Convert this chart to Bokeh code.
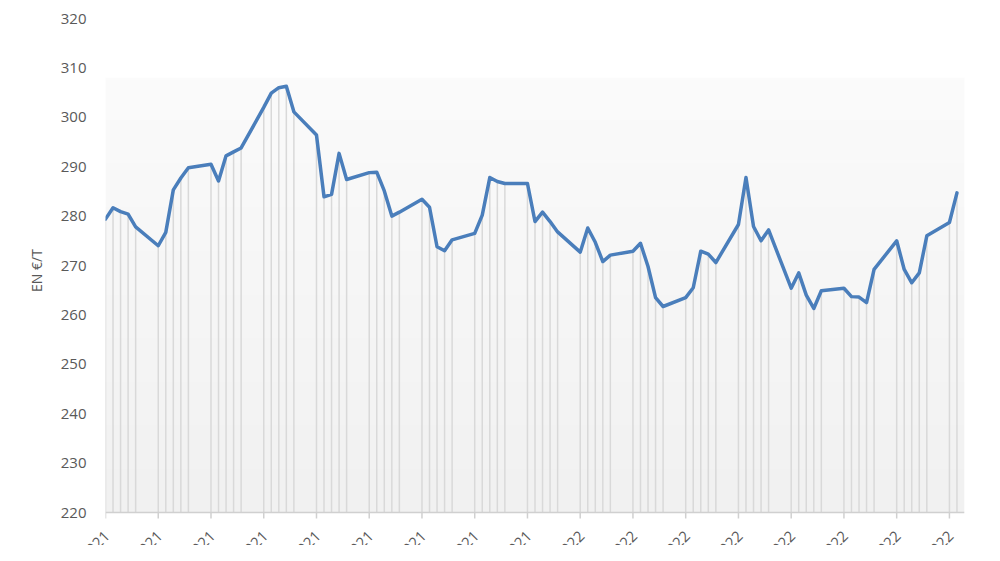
import numpy as np
import pandas as pd
from math import pi
from bokeh.plotting import figure
from bokeh.layouts import column
from bokeh.models import Range1d, FixedTicker, ColumnDataSource
from bokeh.core.properties import value
from bokeh.embed import file_html
from bokeh.resources import INLINE

# ---- data (Euronext price, EUR/t, business days) ----
start_date = "2021-11-01"
end_date = "2022-02-22"
dates = pd.bdate_range(start_date, end_date)

prices = [
    279.4, 281.7, 280.9, 280.4, 277.8,
    274.0, 276.7, 285.3, 287.7, 289.8,
    290.5, 287.1, 292.2, 293.0, 293.8,
    302.0, 304.9, 306.0, 306.3, 301.1,
    296.4, 283.9, 284.4, 292.7, 287.4,
    288.8, 288.9, 285.1, 280.0, 280.8,
    283.4, 281.8, 273.8, 273.0, 275.2,
    276.5, 280.2, 287.8, 287.0, 286.6,
    286.6, 278.9, 280.8, 278.9, 276.8,
    272.7, 277.6, 274.7, 270.8, 272.1,
    272.9, 274.5, 269.8, 263.5, 261.7,
    263.5, 265.5, 272.9, 272.3, 270.6,
    278.3, 287.8, 277.9, 275.0, 277.2,
    265.4, 268.5, 264.0, 261.3, 264.9,
    265.4, 263.7, 263.6, 262.5, 269.2,
    275.0, 269.2, 266.5, 268.5, 276.0,
    278.7, 284.7,
]
assert len(prices) == len(dates)

tick_dates = pd.date_range("2021-11-01", "2022-02-21", freq="7D")
tick_labels = [d.strftime("%d/%m/%Y") for d in tick_dates]
y_ticks = [220, 230, 240, 250, 260, 270, 280, 290, 300, 310, 320]
y_label = "EN €/T"

# ---- style ----
FONT = "Open Sans"
TXT = "#595959"
LINE = "#4A7EBB"
DROP = "#d9d9d9"
AXIS = "#d0d0d0"

W = 984
BORDER_L, BORDER_R, BORDER_T = 105, 20, 18
PLOT_H = 494          # pixels from 320 down to 220
EXTRA_H = 10          # room under the 220 line (axis + ticks)
MAIN_H = BORDER_T + PLOT_H + EXTRA_H
STRIP_H = 545 - MAIN_H

x_start = pd.Timestamp("2021-11-01")
x_end = pd.Timestamp("2022-02-23")
y_min, y_max = y_ticks[0], y_ticks[-1]
px_per_unit = PLOT_H / (y_max - y_min)
y_low = y_min - EXTRA_H / px_per_unit

p = figure(width=W, height=MAIN_H, x_axis_type="datetime",
           x_range=Range1d(x_start, x_end), y_range=Range1d(y_low, y_max),
           x_axis_location=None,
           output_backend="svg", toolbar_location=None,
           min_border_left=BORDER_L, min_border_right=BORDER_R,
           min_border_top=BORDER_T, min_border_bottom=0)
p.background_fill_color = "white"
p.border_fill_color = "white"
p.outline_line_color = None
p.xgrid.visible = False
p.ygrid.visible = False

# gradient panel background (style only)
n = 120
shade = np.linspace(241, 251, n).astype(np.uint8)
img = np.zeros((n, 1), dtype=np.uint32)
view = img.view(dtype=np.uint8).reshape((n, 1, 4))
view[:, 0, 0] = shade
view[:, 0, 1] = shade
view[:, 0, 2] = shade
view[:, 0, 3] = 255
grad_top = 308
p.image_rgba(image=[img], x=x_start, y=y_min,
             dw=(x_end - x_start).total_seconds() * 1000.0,
             dh=grad_top - y_min, level="image")

# drop lines
src = ColumnDataSource(dict(x=dates, y=prices, y0=[y_min] * len(prices)))
p.segment(x0="x", y0="y0", x1="x", y1="y", source=src,
          line_color=DROP, line_width=1.5)

# date axis line and tick marks
p.segment(x0=[x_start], x1=[x_end], y0=[y_min], y1=[y_min],
          line_color=AXIS, line_width=1.5)
tick_len = 6 / px_per_unit
tsrc = ColumnDataSource(dict(x=tick_dates, y0=[y_min] * len(tick_dates),
                             y1=[y_min - tick_len] * len(tick_dates)))
p.segment(x0="x", x1="x", y0="y0", y1="y1", source=tsrc,
          line_color=AXIS, line_width=1.5)

# main line
p.line(x="x", y="y", source=src, line_color=LINE, line_width=3.5,
       line_join="round", line_cap="round")

# y axis
ya = p.yaxis[0]
ya.ticker = FixedTicker(ticks=y_ticks)
ya.axis_line_color = None
ya.major_tick_line_color = None
ya.minor_tick_line_color = None
ya.major_tick_out = 0
ya.major_label_standoff = 19
ya.major_label_text_font = FONT
ya.major_label_text_font_size = "15px"
ya.major_label_text_color = TXT
ya.axis_label = y_label
ya.axis_label_text_font = FONT
ya.axis_label_text_font_size = "14px"
ya.axis_label_text_font_style = "normal"
ya.axis_label_text_color = TXT
ya.axis_label_standoff = 12

# ---- strip for the rotated date labels (cut by the page edge) ----
frame_w = W - BORDER_L - BORDER_R
ms_per_px = (x_end - x_start).total_seconds() * 1000.0 / frame_w
x2_start = x_start - pd.Timedelta(milliseconds=BORDER_L * ms_per_px)
x2_end = x_start + pd.Timedelta(milliseconds=(W - BORDER_L) * ms_per_px)

p2 = figure(width=W, height=STRIP_H, x_axis_type="datetime",
            x_range=Range1d(x2_start, x2_end), y_range=Range1d(0, STRIP_H),
            x_axis_location=None, y_axis_location=None,
            output_backend="svg", toolbar_location=None, min_border=0)
p2.background_fill_color = "white"
p2.border_fill_color = "white"
p2.outline_line_color = None
p2.xgrid.visible = False
p2.ygrid.visible = False

label_y = STRIP_H + EXTRA_H - 20.5
lsrc = ColumnDataSource(dict(x=tick_dates, y=[label_y] * len(tick_dates), text=tick_labels))
p2.text(x="x", y="y", text="text", source=lsrc, angle=pi / 4,
        text_align="right", text_baseline="middle", x_offset=1,
        text_font=value(FONT), text_font_size="15px", text_color=TXT)

layout = column(p, column(p2, spacing=0), spacing=0)
open("out.html", "w").write(file_html(layout, INLINE))
